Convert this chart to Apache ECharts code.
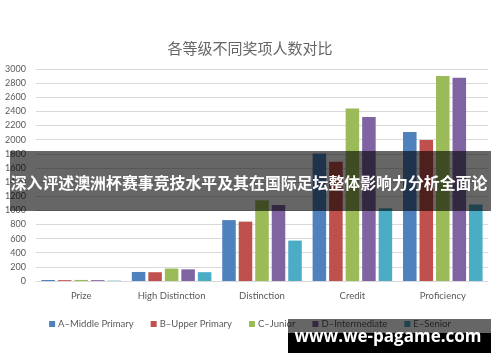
<!DOCTYPE html>
<html><head><meta charset="utf-8">
<script src="https://cdn.jsdelivr.net/npm/echarts@6/dist/echarts.min.js"></script>
<style>html,body{margin:0;padding:0;background:#fff}#c{width:500px;height:362px}</style>
</head><body><div id="c"></div>
<script>
const categories = ['Prize', 'High Distinction', 'Distinction', 'Credit', 'Proficiency'];
const seriesNames = ['A–Middle Primary', 'B–Upper Primary', 'C–Junior', 'D–Intermediate', 'E–Senior'];
const middlePrimary = [14, 128, 862, 1805, 2110];
const upperPrimary = [12, 124, 840, 1688, 1995];
const junior = [15, 176, 1143, 2440, 2900];
const intermediate = [12, 165, 1076, 2322, 2875];
const senior = [5, 125, 572, 1030, 1083];
const yTicks = {min: 0, max: 3000, interval: 200};
const titleText = '各等级不同奖项人数对比';
const bannerText = '深入评述澳洲杯赛事竞技水平及其在国际足坛整体影响力分析全面论';
const watermarkText = 'www.we-pagame.com';

const colors = ['#4F81BD', '#C0504D', '#9BBB59', '#8064A2', '#4BACC6'];
const allValues = [middlePrimary, upperPrimary, junior, intermediate, senior];
const font = 'Lato, "Open Sans", sans-serif';

const chart = echarts.init(document.getElementById('c'), null, {renderer: 'canvas'});
chart.setOption({
  animation: false,
  color: colors,
  title: {
    text: titleText, left: 'center', top: 36,
    textStyle: {fontFamily: '"Noto Sans CJK SC"', fontSize: 15, fontWeight: 'normal', color: '#666666'}
  },
  grid: {left: 36, right: 12, top: 69, bottom: 81},
  legend: {
    top: 314, left: 'center', itemWidth: 6, itemHeight: 6, itemGap: 17,
    icon: 'rect',
    textStyle: {fontFamily: font, fontSize: 9.5, color: '#595959', padding: [0, 0, 0, -2]},
    data: seriesNames
  },
  xAxis: {
    type: 'category', data: categories,
    axisLine: {lineStyle: {color: '#d9d9d9'}},
    axisTick: {show: false},
    axisLabel: {fontFamily: font, fontSize: 9.5, color: '#595959', margin: 10}
  },
  yAxis: {
    type: 'value', min: yTicks.min, max: yTicks.max, interval: yTicks.interval,
    axisLine: {show: false}, axisTick: {show: false},
    axisLabel: {fontFamily: font, fontSize: 9, color: '#595959', margin: 10, formatter: v => String(v)},
    splitLine: {lineStyle: {color: '#d9d9d9'}}
  },
  series: seriesNames.map((n, i) => ({
    name: n, type: 'bar', data: allValues[i],
    barGap: '22%', barCategoryGap: '12%'
  })),
  graphic: [
    {type: 'rect', shape: {x: 10, y: 151, width: 481, height: 60}, style: {fill: 'rgba(0,0,0,0.6)'}, z: 100},
    {type: 'text', x: 249, y: 183, z: 101,
     style: {text: bannerText, fill: '#fff', font: 'bold 15.9px "Noto Sans CJK SC"', textAlign: 'center', textVerticalAlign: 'middle'}},
    {type: 'rect', shape: {x: 288, y: 319, width: 203, height: 14}, style: {fill: 'rgba(0,0,0,0.6)'}, z: 100},
    {type: 'rect', shape: {x: 288, y: 333, width: 203, height: 20}, style: {fill: '#000'}, z: 100},
    {type: 'text', x: 388, y: 337, z: 101,
     style: {text: watermarkText, fill: '#fff', font: 'bold 17px "Open Sans", sans-serif', textAlign: 'center', textVerticalAlign: 'middle'}}
  ]
});
</script></body></html>
